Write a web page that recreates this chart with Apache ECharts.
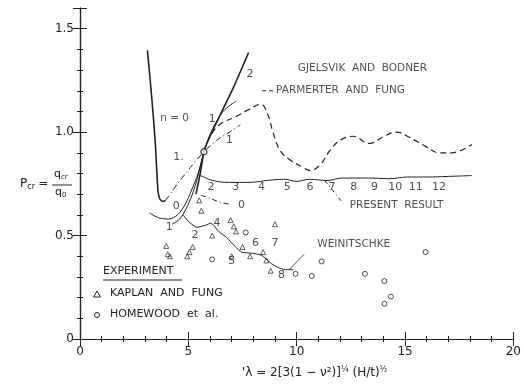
<!DOCTYPE html>
<html>
<head>
<meta charset="utf-8">
<script src="https://cdn.jsdelivr.net/npm/echarts@6/dist/echarts.min.js"></script>
<style>
  html, body { margin: 0; padding: 0; background: #fff; }
  #chart { width: 524px; height: 388px; }
</style>
</head>
<body>
<div id="chart"></div>
<script>
// axis ticks
const xTicks = [0, 5, 10, 15, 20];
const yTicks = [0, 0.5, 1.0, 1.5];

// n = 0 (axisymmetric) curve
const nZero = [[3.11, 1.395], [3.25, 1.24], [3.38, 1.08], [3.48, 0.94], [3.55, 0.80], [3.6, 0.715], [3.68, 0.678], [3.8, 0.665], [3.95, 0.67]];
// Gjelsvik and Bodner, steep solid
const gjelsvik = [[5.35, 0.70], [5.55, 0.80], [5.72, 0.905], [6.0, 0.98], [6.5, 1.09], [7.1, 1.22], [7.78, 1.385]];
// present result, mode 0 and mode 1
const modeZero = [[4.25, 0.555], [4.6, 0.58], [4.95, 0.64], [5.25, 0.72], [5.5, 0.81], [5.72, 0.905]];
const modeOne = [[3.2, 0.61], [3.65, 0.585], [4.1, 0.58], [4.5, 0.6], [4.85, 0.65], [5.15, 0.72], [5.45, 0.80], [5.72, 0.905], [6.05, 1.0], [6.6, 1.1], [7.2, 1.15]];
// lower scallops, modes 2..8
const lowerModes = [[4.75, 0.60], [5.03, 0.566], [5.4, 0.54], [5.8, 0.55], [6.04, 0.56], [6.4, 0.52], [6.77, 0.49], [7.18, 0.445], [7.46, 0.42], [7.9, 0.415], [8.37, 0.405], [8.83, 0.365], [9.15, 0.345], [9.47, 0.335], [9.84, 0.335]];
// present result, nearly flat line
const presentLine = [[5.58, 0.79], [6.1, 0.767], [6.9, 0.757], [7.8, 0.757], [8.7, 0.767], [9.4, 0.772], [10.0, 0.762], [10.6, 0.772], [11.4, 0.766], [12.1, 0.778], [13.3, 0.778], [14.3, 0.775], [15.1, 0.783], [16.0, 0.783], [17.0, 0.786], [18.08, 0.79]];
// Parmerter and Fung, dashed
const parmerter = [[5.72, 0.905], [6.0, 0.98], [6.5, 1.04], [7.2, 1.075], [7.8, 1.11], [8.35, 1.135], [8.65, 1.09], [8.92, 0.995], [9.24, 0.91], [9.7, 0.865], [10.3, 0.83], [10.6, 0.815], [11.07, 0.84], [11.53, 0.91], [12.0, 0.96], [12.6, 0.98], [13.36, 0.945], [13.96, 0.975], [14.6, 1.0], [15.2, 0.975], [15.97, 0.93], [16.57, 0.9], [17.16, 0.9], [18.08, 0.94]];
// dash-dot curves
const dashDotOne = [[3.95, 0.67], [4.5, 0.75], [5.1, 0.83], [5.72, 0.905], [6.3, 0.96], [6.9, 1.0], [7.4, 1.035]];
const dashDotZero = [[5.58, 0.695], [6.0, 0.68], [6.5, 0.66], [7.0, 0.65]];
const crossPoint = [[5.72, 0.905]];

// experiments
const kaplanFung = [[5.5, 0.67], [5.6, 0.62], [3.98, 0.45], [4.05, 0.41], [4.15, 0.40], [4.95, 0.40], [5.05, 0.42], [5.2, 0.445], [6.1, 0.50], [6.95, 0.575], [7.1, 0.545], [7.2, 0.52], [7.0, 0.40], [7.5, 0.445], [7.85, 0.40], [8.45, 0.42], [8.6, 0.38], [8.8, 0.33], [9.0, 0.555]];
const homewood = [[6.1, 0.385], [7.65, 0.515], [9.95, 0.315], [10.7, 0.305], [11.15, 0.375], [13.15, 0.315], [14.05, 0.28], [14.35, 0.205], [14.05, 0.17], [15.95, 0.42]];

// leaders
const parmLeader = [[8.4, 1.2], [8.95, 1.2]];
const presentLeader = [[11.3, 0.765], [12.15, 0.655]];
const weinLeader = [[9.65, 0.335], [10.35, 0.41]];

// notes, centred
const notesMid = [
  [6.04, 0.735, '2'], [7.19, 0.735, '3'], [8.38, 0.735, '4'], [9.57, 0.735, '5'], [10.62, 0.735, '6'],
  [11.63, 0.735, '7'], [12.63, 0.735, '8'], [13.59, 0.735, '9'], [14.55, 0.735, '10'], [15.5, 0.735, '11'], [16.57, 0.735, '12'],
  [4.12, 0.54, '1'], [5.31, 0.50, '2'], [6.32, 0.56, '4'], [7.0, 0.375, '5'], [8.1, 0.465, '6'], [9.0, 0.465, '7'], [9.3, 0.31, '8'],
  [4.44, 0.64, '0'], [7.45, 0.648, '0'], [4.55, 0.88, '1.'], [6.1, 1.065, '1'], [6.9, 0.96, '1'], [7.85, 1.28, '2']
];
// notes, left aligned
const notesLeft = [
  [3.7, 1.067, 'n = 0'],
  [10.05, 1.31, 'GJELSVIK  AND  BODNER'],
  [9.05, 1.2, 'PARMERTER  AND  FUNG'],
  [12.45, 0.645, 'PRESENT  RESULT'],
  [10.95, 0.46, 'WEINITSCHKE']
];

const ink = '#222';
const font = 'DejaVu Sans';

function curve(data, type, width, smooth) {
  return {
    type: 'line', data: data, showSymbol: false, smooth: smooth,
    lineStyle: { color: ink, width: width, type: type }, silent: true, z: 3
  };
}

const chart = echarts.init(document.getElementById('chart'));
const axisCommon = {
  type: 'value',
  axisLine: { show: true, lineStyle: { color: ink, width: 1.2 } },
  axisTick: { show: true, inside: true, length: 7, lineStyle: { color: ink } },
  minorTick: { show: true, splitNumber: 5, length: 3, lineStyle: { color: ink } },
  splitLine: { show: false },
  minorSplitLine: { show: false }
};

chart.setOption({
  backgroundColor: '#fff',
  animation: false,
  grid: { left: 80, right: 5, top: 8, bottom: 49 },
  xAxis: [
    Object.assign({}, axisCommon, {
      min: xTicks[0], max: xTicks[xTicks.length - 1], interval: 5,
      axisLabel: { color: ink, fontFamily: font, fontSize: 12, margin: 7 }
    }),
    Object.assign({}, axisCommon, {
      position: 'top', min: xTicks[0], max: xTicks[xTicks.length - 1], interval: 5,
      axisLabel: { show: false }
    })
  ],
  yAxis: [
    Object.assign({}, axisCommon, {
      min: 0, max: 1.6, interval: 0.5,
      axisLabel: {
        color: ink, fontFamily: font, fontSize: 12, margin: 6, showMaxLabel: false,
        formatter: function (v) { return yTicks.indexOf(v) >= 0 ? (v === 0 ? '0' : v.toFixed(1)) : ''; }
      }
    }),
    Object.assign({}, axisCommon, {
      position: 'right', min: 0, max: 1.6, interval: 0.5,
      axisLabel: { show: false }
    })
  ],
  graphic: [
    { type: 'text', left: 242, top: 366, style: { text: '{a|\'λ = 2[3(1 − ν²)]}{s|¼}{a| (H/t)}{s|½}', fill: ink,
      rich: { a: { fontFamily: font, fontSize: 12, fill: ink }, s: { fontFamily: font, fontSize: 8, fill: ink, verticalAlign: 'top', padding: [0, 0, 6, 0] } } } },
    { type: 'text', left: 20, top: 178, style: { text: '{a|P}{s|cr} {a|=}', rich: { a: { fontFamily: font, fontSize: 12, fill: ink }, s: { fontFamily: font, fontSize: 8, fill: ink, padding: [6, 0, 0, 0] } } } },
    { type: 'text', left: 54, top: 169, style: { text: '{a|q}{s|cr}', rich: { a: { fontFamily: font, fontSize: 11, fill: ink }, s: { fontFamily: font, fontSize: 7, fill: ink, padding: [5, 0, 0, 0] } } } },
    { type: 'line', shape: { x1: 52, y1: 185, x2: 72, y2: 185 }, style: { stroke: ink, lineWidth: 1 } },
    { type: 'text', left: 55, top: 187, style: { text: '{a|q}{s|0}', rich: { a: { fontFamily: font, fontSize: 11, fill: ink }, s: { fontFamily: font, fontSize: 7, fill: ink, padding: [5, 0, 0, 0] } } } },
    { type: 'text', left: 103, top: 266, style: { text: 'EXPERIMENT', fontFamily: font, fontSize: 11, fill: ink } },
    { type: 'line', shape: { x1: 103, y1: 280, x2: 182, y2: 280 }, style: { stroke: ink, lineWidth: 1 } },
    { type: 'polygon', shape: { points: [[97, 291], [93.5, 297], [100.5, 297]] }, style: { fill: 'none', stroke: ink, lineWidth: 1 } },
    { type: 'text', left: 110, top: 288, style: { text: 'KAPLAN  AND  FUNG', fontFamily: font, fontSize: 11, fill: ink } },
    { type: 'circle', shape: { cx: 97, cy: 315, r: 2.5 }, style: { fill: 'none', stroke: ink, lineWidth: 1 } },
    { type: 'text', left: 110, top: 309, style: { text: 'HOMEWOOD  et  al.', fontFamily: font, fontSize: 11, fill: ink } }
  ],
  series: [
    curve(nZero, 'solid', 1.6, 0.2),
    curve(gjelsvik, 'solid', 1.6, 0.2),
    curve(modeZero, 'solid', 1, 0.3),
    curve(modeOne, 'solid', 1, 0.3),
    curve(lowerModes, 'solid', 1, 0.2),
    curve(presentLine, 'solid', 1, 0.4),
    curve(parmerter, [6, 4], 1.2, 0.4),
    curve(dashDotOne, [6, 3, 1, 3], 1, 0.3),
    curve(dashDotZero, [5, 3, 1, 3], 1, 0.3),
    curve(parmLeader, [4, 3], 1, false),
    curve(presentLeader, [4, 3, 1, 3], 1, false),
    curve(weinLeader, 'solid', 0.8, false),
    {
      type: 'scatter', data: crossPoint, symbol: 'circle', symbolSize: 6, silent: true, z: 4,
      itemStyle: { color: '#fff', borderColor: ink, borderWidth: 1.4 }
    },
    {
      type: 'scatter', data: kaplanFung, symbol: 'triangle', symbolSize: 5, silent: true,
      itemStyle: { color: 'none', borderColor: ink, borderWidth: 0.9 }
    },
    {
      type: 'scatter', data: homewood, symbol: 'circle', symbolSize: 5, silent: true,
      itemStyle: { color: 'none', borderColor: ink, borderWidth: 1 }
    },
    {
      type: 'scatter', symbolSize: 0, silent: true, z: 5,
      data: notesMid.map(function (n) { return { value: [n[0], n[1]], label: { formatter: n[2] } }; }),
      label: { show: true, position: 'inside', color: ink, fontFamily: font, fontSize: 11 }
    },
    {
      type: 'scatter', symbolSize: 0, silent: true, z: 5,
      data: notesLeft.map(function (n) { return { value: [n[0], n[1]], label: { formatter: n[2] } }; }),
      label: { show: true, position: 'right', distance: 0, color: ink, fontFamily: font, fontSize: 10.5 }
    }
  ]
});
</script>
</body>
</html>
